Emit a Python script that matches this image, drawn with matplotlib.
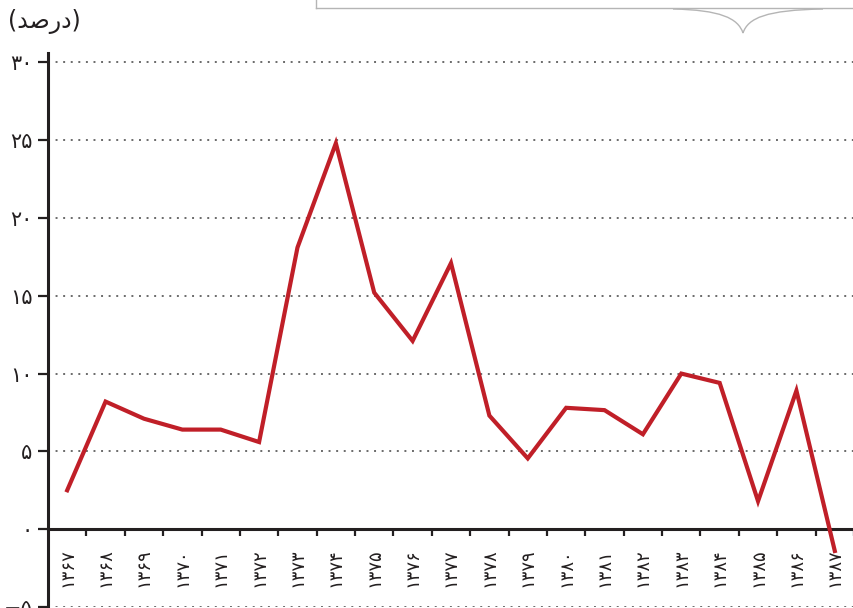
import numpy as np
import matplotlib
matplotlib.use("Agg")
import matplotlib.pyplot as plt
from matplotlib.lines import Line2D
from matplotlib.path import Path
from matplotlib.patches import PathPatch

plt.rcParams['font.family'] = ['DejaVu Sans']

years = ['۱۳۶۷', '۱۳۶۸', '۱۳۶۹', '۱۳۷۰', '۱۳۷۱', '۱۳۷۲', '۱۳۷۳',
         '۱۳۷۴', '۱۳۷۵', '۱۳۷۶', '۱۳۷۷', '۱۳۷۸', '۱۳۷۹', '۱۳۸۰',
         '۱۳۸۱', '۱۳۸۲', '۱۳۸۳', '۱۳۸۴', '۱۳۸۵', '۱۳۸۶', '۱۳۸۷']
values = [2.5, 8.2, 7.1, 6.4, 6.4, 5.6, 18.1,
          24.8, 15.2, 12.1, 17.1, 7.3, 4.55, 7.8,
          7.65, 6.1, 10.0, 9.4, 1.8, 8.9, -1.4]
y_ticks = [-5, 0, 5, 10, 15, 20, 25, 30]
y_tick_labels = ['−۵', '۰', '۵', '۱۰', '۱۵', '۲۰', '۲۵', '۳۰']
# "(درصد)" written with presentation forms, visual order
unit_label = '(\uFEAA\uFEBB\uFEAD\uFEA9)'

line_color = '#c01f28'
axis_color = '#231f20'

fig = plt.figure(figsize=(8.54, 6.08), dpi=100)
ax = fig.add_axes([48 / 854, 1 / 608, 806 / 854, 554 / 608])

x = np.arange(len(years))
ax.plot(x, values, color=line_color, lw=3.0, solid_joinstyle='miter', zorder=3)

ax.set_xlim(-0.5, len(years) - 0.5)
ax.set_ylim(-5, 30.6)

# dotted gridlines
for v in y_ticks:
    if v != 0:
        ax.axhline(v, color='#6a6a6a', lw=1.4, linestyle=(0, (1, 2.9)), zorder=1)

for s in ['top', 'right']:
    ax.spines[s].set_visible(False)
ax.spines['bottom'].set_position(('data', 0))
ax.spines['bottom'].set_color(axis_color)
ax.spines['bottom'].set_linewidth(2.2)
ax.spines['left'].set_color(axis_color)
ax.spines['left'].set_linewidth(2.2)

ax.set_yticks(y_ticks)
ax.set_yticklabels(y_tick_labels, fontsize=15, color=axis_color)
ax.tick_params(axis='y', direction='out', length=7, width=1.6, pad=4, colors=axis_color)

ax.set_xticks(x)
ax.set_xticklabels(years, rotation=90, fontsize=13, color=axis_color)
ax.set_xticks(x + 0.5, minor=True)
ax.tick_params(axis='x', which='major', length=0, pad=14)
ax.tick_params(axis='x', which='minor', direction='out', length=5, width=1.6, colors=axis_color)

fig.text(8 / 854, 1 - 22 / 608, unit_label, fontsize=17, color=axis_color,
         ha='left', va='center')

# remnants of the header box at the top of the page
box = Line2D([316 / 854, 1.0], [1 - 8 / 608, 1 - 8 / 608], transform=fig.transFigure,
             color='#b5b5b5', lw=1.0)
box_side = Line2D([316 / 854, 316 / 854], [1.0, 1 - 8 / 608], transform=fig.transFigure,
                  color='#b5b5b5', lw=1.0)
fig.add_artist(box)
fig.add_artist(box_side)
brace_pts = [(673, 9), (720, 10), (738, 18), (743, 33), (748, 18), (766, 10), (823, 9)]
verts = [(px / 854, 1 - py / 608) for px, py in brace_pts]
codes = [Path.MOVETO, Path.CURVE4, Path.CURVE4, Path.CURVE4, Path.CURVE4, Path.CURVE4, Path.CURVE4]
fig.add_artist(PathPatch(Path(verts, codes), transform=fig.transFigure, fill=False,
                         edgecolor='#b5b5b5', lw=1.0))

fig.savefig('out.png', dpi=100)
